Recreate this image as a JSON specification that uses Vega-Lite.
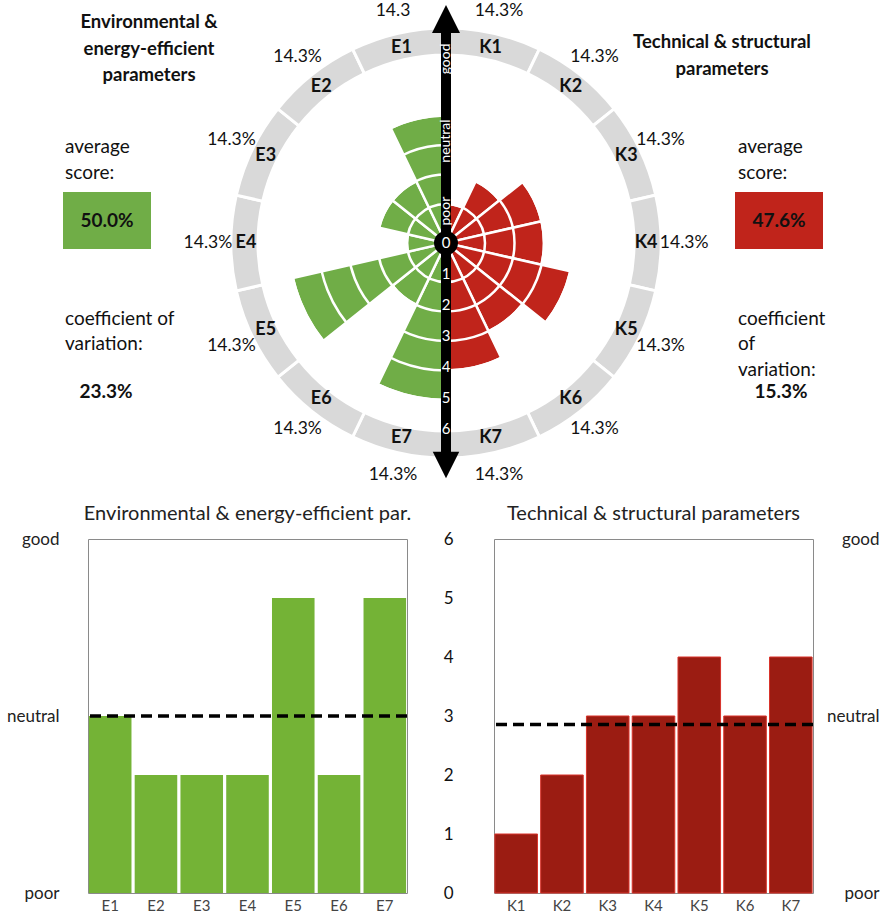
{
  "$schema": "https://vega.github.io/schema/vega-lite/v6.json",
  "padding": {"left": 5, "right": 0, "top": 0, "bottom": 0},
  "config": {
    "font": "Lato",
    "view": {"stroke": null},
    "axis": {"labelFont": "Lato"},
    "title": {"font": "Lato"}
  },
  "datasets": {
    "params": [
      {"group": "K", "param": "K1", "share": 14.3, "rose": 1, "pct": "14.3%"},
      {"group": "K", "param": "K2", "share": 14.3, "rose": 2, "pct": "14.3%"},
      {"group": "K", "param": "K3", "share": 14.3, "rose": 3, "pct": "14.3%"},
      {"group": "K", "param": "K4", "share": 14.3, "rose": 3, "pct": "14.3%"},
      {"group": "K", "param": "K5", "share": 14.3, "rose": 4, "pct": "14.3%"},
      {"group": "K", "param": "K6", "share": 14.3, "rose": 3, "pct": "14.3%"},
      {"group": "K", "param": "K7", "share": 14.3, "rose": 4, "pct": "14.3%"},
      {"group": "E", "param": "E7", "share": 14.3, "rose": 5, "pct": "14.3%"},
      {"group": "E", "param": "E6", "share": 14.3, "rose": 2, "pct": "14.3%"},
      {"group": "E", "param": "E5", "share": 14.3, "rose": 5, "pct": "14.3%"},
      {"group": "E", "param": "E4", "share": 14.3, "rose": 1, "pct": "14.3%"},
      {"group": "E", "param": "E3", "share": 14.3, "rose": 2, "pct": "14.3%"},
      {"group": "E", "param": "E2", "share": 14.3, "rose": 2, "pct": "14.3%"},
      {"group": "E", "param": "E1", "share": 14.3, "rose": 4, "pct": "14.3"}
    ],
    "levels": [{"level": 1}, {"level": 2}, {"level": 3}, {"level": 4}, {"level": 5}],
    "ticks": [{"tick": 0}, {"tick": 1}, {"tick": 2}, {"tick": 3}, {"tick": 4}, {"tick": 5}, {"tick": 6}],
    "notes": [
      {"side": "left", "item": "title", "text": "Environmental &\nenergy-efficient\nparameters"},
      {"side": "right", "item": "title", "text": "Technical & structural\nparameters"},
      {"side": "left", "item": "avg", "text": "average\nscore:"},
      {"side": "right", "item": "avg", "text": "average\nscore:"},
      {"side": "left", "item": "cv", "text": "coefficient of\nvariation:"},
      {"side": "right", "item": "cv", "text": "coefficient\nof\nvariation:"}
    ],
    "summary": [
      {"side": "left", "group": "E", "avg": "50.0%", "cv": "23.3%"},
      {"side": "right", "group": "K", "avg": "47.6%", "cv": "15.3%"}
    ],
    "bars": [
      {"group": "E", "param": "E1", "score": 3},
      {"group": "E", "param": "E2", "score": 2},
      {"group": "E", "param": "E3", "score": 2},
      {"group": "E", "param": "E4", "score": 2},
      {"group": "E", "param": "E5", "score": 5},
      {"group": "E", "param": "E6", "score": 2},
      {"group": "E", "param": "E7", "score": 5},
      {"group": "K", "param": "K1", "score": 1},
      {"group": "K", "param": "K2", "score": 2},
      {"group": "K", "param": "K3", "score": 3},
      {"group": "K", "param": "K4", "score": 3},
      {"group": "K", "param": "K5", "score": 4},
      {"group": "K", "param": "K6", "score": 3},
      {"group": "K", "param": "K7", "score": 4}
    ]
  },
  "spacing": 17,
  "vconcat": [
    {
      "width": 716,
      "height": 486,
      "view": {"stroke": null},
      "resolve": {"scale": {"x": "independent", "y": "independent"}},
      "layer": [
        {
          "layer": [
            {
              "data": {"name": "params"},
              "mark": {"type": "arc", "fill": "#d9d9d9", "stroke": "white", "strokeWidth": 3},
              "encoding": {
                "theta": {"field": "share", "type": "quantitative", "stack": true},
                "order": {"field": "group", "sort": "descending"},
                "radius": {"datum": 6.97, "type": "quantitative", "scale": {"type": "linear", "domain": [0, 7], "range": [9.5, 216], "zero": false}},
                "radius2": {"datum": 6.05}
              }
            },
            {
              "data": {"name": "params"},
              "transform": [{"stack": "share", "groupby": [], "sort": [{"field": "group", "order": "descending"}], "as": ["t0", "t1"]}],
              "mark": {"type": "arc", "stroke": "white", "strokeWidth": 2.5},
              "encoding": {
                "theta": {"field": "t0", "type": "quantitative"},
                "theta2": {"field": "t1"},
                "radius": {"field": "rose", "type": "quantitative", "scale": {"type": "linear", "domain": [0, 7], "range": [9.5, 216], "zero": false}},
                "radius2": {"datum": 0},
                "color": {"field": "group", "type": "nominal", "scale": {"domain": ["E", "K"], "range": ["#70ad47", "#c0241b"]}, "legend": null}
              }
            },
            {
              "data": {"name": "levels"},
              "mark": {"type": "arc", "theta": 0, "theta2": 6.2832, "filled": false, "stroke": "white", "strokeWidth": 2.5},
              "encoding": {
                "radius": {"field": "level", "type": "quantitative", "scale": {"type": "linear", "domain": [0, 7], "range": [9.5, 216], "zero": false}},
                "radius2": {"field": "level"}
              }
            },
            {
              "data": {"name": "params"},
              "mark": {"type": "text", "fontWeight": "bold", "fontSize": 18, "color": "#111"},
              "encoding": {
                "theta": {"field": "share", "type": "quantitative", "stack": true},
                "order": {"field": "group", "sort": "descending"},
                "radius": {"datum": 6.46, "type": "quantitative", "scale": {"type": "linear", "domain": [0, 7], "range": [9.5, 216], "zero": false}},
                "text": {"field": "param"}
              }
            },
            {
              "data": {"name": "params"},
              "mark": {"type": "text", "fontSize": 17.5, "color": "#111"},
              "encoding": {
                "theta": {"field": "share", "type": "quantitative", "stack": true},
                "order": {"field": "group", "sort": "descending"},
                "radius": {"datum": 7.75, "type": "quantitative", "scale": {"type": "linear", "domain": [0, 7], "range": [9.5, 216], "zero": false}},
                "text": {"field": "pct"}
              }
            }
          ]
        },
        {
          "data": {"values": [{}]},
          "layer": [
            {
              "mark": {"type": "rule", "strokeWidth": 10, "color": "black"},
              "encoding": {
                "x": {"datum": 0, "type": "quantitative", "scale": {"domain": [-1, 1], "nice": false, "zero": false}, "axis": null},
                "y": {"datum": -6.8, "type": "quantitative", "scale": {"domain": [-7.84, 7.84], "reverse": true, "nice": false, "zero": false}, "axis": null},
                "y2": {"datum": 6.75}
              }
            },
            {
              "mark": {"type": "point", "shape": "M0,-1L1,1L-1,1Z", "size": 784, "filled": true, "color": "black", "opacity": 1},
              "encoding": {"x": {"datum": 0, "type": "quantitative"}, "y": {"datum": -7.23, "type": "quantitative"}}
            },
            {
              "mark": {"type": "point", "shape": "M0,1L1,-1L-1,-1Z", "size": 700, "filled": true, "color": "black", "opacity": 1},
              "encoding": {"x": {"datum": 0, "type": "quantitative"}, "y": {"datum": 7.16, "type": "quantitative"}}
            },
            {
              "mark": {"type": "point", "shape": "circle", "size": 573, "filled": true, "color": "black", "opacity": 1},
              "encoding": {"x": {"datum": 0, "type": "quantitative"}, "y": {"datum": 0, "type": "quantitative"}}
            },
            {
              "data": {"name": "ticks"},
              "mark": {"type": "text", "fontSize": 15, "color": "white"},
              "encoding": {
                "x": {"datum": 0, "type": "quantitative"},
                "y": {"field": "tick", "type": "quantitative"},
                "text": {"field": "tick"}
              }
            },
            {
              "mark": {"type": "text", "fontSize": 14, "color": "white", "angle": 270, "text": "poor"},
              "encoding": {"x": {"datum": 0, "type": "quantitative"}, "y": {"datum": -1.03, "type": "quantitative"}}
            },
            {
              "mark": {"type": "text", "fontSize": 14, "color": "white", "angle": 270, "text": "neutral"},
              "encoding": {"x": {"datum": 0, "type": "quantitative"}, "y": {"datum": -3.29, "type": "quantitative"}}
            },
            {
              "mark": {"type": "text", "fontSize": 14, "color": "white", "angle": 270, "text": "good"},
              "encoding": {"x": {"datum": 0, "type": "quantitative"}, "y": {"datum": -5.94, "type": "quantitative"}}
            }
          ]
        },
        {
          "data": {"name": "notes"},
          "transform": [{"filter": {"field": "item", "equal": "title"}}],
          "mark": {"type": "text", "fontWeight": "bold", "fontSize": 18.5, "lineBreak": "\n", "lineHeight": 26.5, "align": "center", "baseline": "middle", "color": "#111"},
          "encoding": {
            "x": {"field": "side", "type": "nominal", "scale": {"type": "point", "domain": ["left", "right"], "range": [61, 634], "padding": 0}, "axis": null},
            "y": {"field": "side", "type": "nominal", "scale": {"type": "point", "domain": ["left", "right"], "range": [22, 42], "padding": 0}, "axis": null},
            "text": {"field": "text"}
          }
        },
        {
          "data": {"name": "notes"},
          "transform": [{"filter": {"field": "item", "oneOf": ["avg", "cv"]}}],
          "mark": {"type": "text", "fontSize": 19, "lineBreak": "\n", "lineHeight": 25.5, "align": "left", "baseline": "middle", "color": "#111"},
          "encoding": {
            "x": {"field": "side", "type": "nominal", "scale": {"type": "point", "domain": ["left", "right"], "range": [-23, 650], "padding": 0}, "axis": null},
            "y": {"field": "item", "type": "nominal", "scale": {"type": "point", "domain": ["avg", "a1", "a2", "box", "b1", "b2", "b3", "cv", "c1", "c2", "val"], "range": [147, 392], "padding": 0}, "axis": null},
            "text": {"field": "text"}
          }
        },
        {
          "data": {"name": "summary"},
          "mark": {"type": "rect", "width": 88, "height": 57},
          "encoding": {
            "x": {"field": "side", "type": "nominal", "scale": {"type": "point", "domain": ["left", "right"], "range": [19, 691], "padding": 0}, "axis": null},
            "y": {"datum": "box", "type": "nominal", "scale": {"type": "point", "domain": ["avg", "a1", "a2", "box", "b1", "b2", "b3", "cv", "c1", "c2", "val"], "range": [147, 392], "padding": 0}, "axis": null},
            "color": {"field": "group", "type": "nominal", "legend": null}
          }
        },
        {
          "data": {"name": "summary"},
          "mark": {"type": "text", "fontWeight": "bold", "fontSize": 19, "color": "#111"},
          "encoding": {
            "x": {"field": "side", "type": "nominal", "scale": {"type": "point", "domain": ["left", "right"], "range": [19, 691], "padding": 0}, "axis": null},
            "y": {"datum": "box", "type": "nominal", "scale": {"type": "point", "domain": ["avg", "a1", "a2", "box", "b1", "b2", "b3", "cv", "c1", "c2", "val"], "range": [147, 392], "padding": 0}, "axis": null},
            "text": {"field": "avg"}
          }
        },
        {
          "data": {"name": "summary"},
          "mark": {"type": "text", "fontWeight": "bold", "fontSize": 19, "color": "#111"},
          "encoding": {
            "x": {"field": "side", "type": "nominal", "scale": {"type": "point", "domain": ["left", "right"], "range": [18, 693], "padding": 0}, "axis": null},
            "y": {"datum": "val", "type": "nominal", "scale": {"type": "point", "domain": ["avg", "a1", "a2", "box", "b1", "b2", "b3", "cv", "c1", "c2", "val"], "range": [147, 392], "padding": 0}, "axis": null},
            "text": {"field": "cv"}
          }
        }
      ]
    },
    {
      "spacing": 87,
      "bounds": "flush",
      "hconcat": [
        {
          "width": 319,
          "height": 354,
          "view": {"stroke": "#8a8a8a", "strokeWidth": 1},
          "title": {"text": "Environmental & energy-efficient par.", "fontSize": 20, "fontWeight": "normal", "color": "#222", "offset": 6, "anchor": "middle"},
          "data": {"name": "bars"},
          "transform": [{"filter": {"field": "group", "equal": "E"}}],
          "layer": [
            {
              "mark": {"type": "bar", "fill": "#74b336"},
              "encoding": {
                "x": {"field": "param", "type": "nominal", "scale": {"paddingInner": 0.07, "paddingOuter": 0.02}, "axis": {"title": null, "domain": false, "ticks": false, "labelAngle": 0, "labelFontSize": 15, "labelColor": "#444", "labelPadding": 5}},
                "y": {"field": "score", "type": "quantitative", "scale": {"domain": [0, 6], "nice": false}, "axis": {"values": [0, 3, 6], "labelExpr": "datum.value == 0 ? 'poor' : datum.value == 3 ? 'neutral' : 'good'", "title": null, "domain": false, "ticks": false, "grid": false, "labelFlush": false, "labelPadding": 29, "labelFontSize": 17, "labelColor": "#222"}}
              }
            },
            {
              "mark": {"type": "rule", "strokeDash": [11, 6], "strokeWidth": 3.5, "color": "black"},
              "encoding": {
                "y": {"aggregate": "mean", "field": "score", "type": "quantitative", "axis": {"values": [0, 3, 6], "labelExpr": "datum.value == 0 ? 'poor' : datum.value == 3 ? 'neutral' : 'good'", "title": null, "domain": false, "ticks": false, "grid": false, "labelFlush": false, "labelPadding": 29, "labelFontSize": 17, "labelColor": "#222"}}
              }
            }
          ]
        },
        {
          "width": 319,
          "height": 354,
          "view": {"stroke": "#8a8a8a", "strokeWidth": 1},
          "title": {"text": "Technical & structural parameters", "fontSize": 20, "fontWeight": "normal", "color": "#222", "offset": 6, "anchor": "middle"},
          "data": {"name": "bars"},
          "transform": [{"filter": {"field": "group", "equal": "K"}}],
          "resolve": {"axis": {"y": "independent"}},
          "layer": [
            {
              "mark": {"type": "bar", "fill": "#9b1c12", "stroke": "#d8332a", "strokeWidth": 1},
              "encoding": {
                "x": {"field": "param", "type": "nominal", "scale": {"paddingInner": 0.07, "paddingOuter": 0.02}, "axis": {"title": null, "domain": false, "ticks": false, "labelAngle": 0, "labelFontSize": 15, "labelColor": "#444", "labelPadding": 5}},
                "y": {"field": "score", "type": "quantitative", "scale": {"domain": [0, 6], "nice": false}, "axis": {"orient": "left", "values": [0, 1, 2, 3, 4, 5, 6], "title": null, "domain": false, "ticks": false, "grid": false, "labelFlush": false, "labelPadding": 41, "labelFontSize": 17, "labelColor": "#111"}}
              }
            },
            {
              "mark": {"type": "rule", "strokeDash": [11, 6], "strokeWidth": 3.5, "color": "black"},
              "encoding": {
                "y": {"aggregate": "mean", "field": "score", "type": "quantitative", "axis": {"orient": "right", "values": [0, 3, 6], "labelExpr": "datum.value == 0 ? 'poor' : datum.value == 3 ? 'neutral' : 'good'", "title": null, "domain": false, "ticks": false, "grid": false, "labelFlush": false, "labelAlign": "right", "labelPadding": 66, "labelFontSize": 17, "labelColor": "#222"}}
              }
            }
          ]
        }
      ]
    }
  ]
}
